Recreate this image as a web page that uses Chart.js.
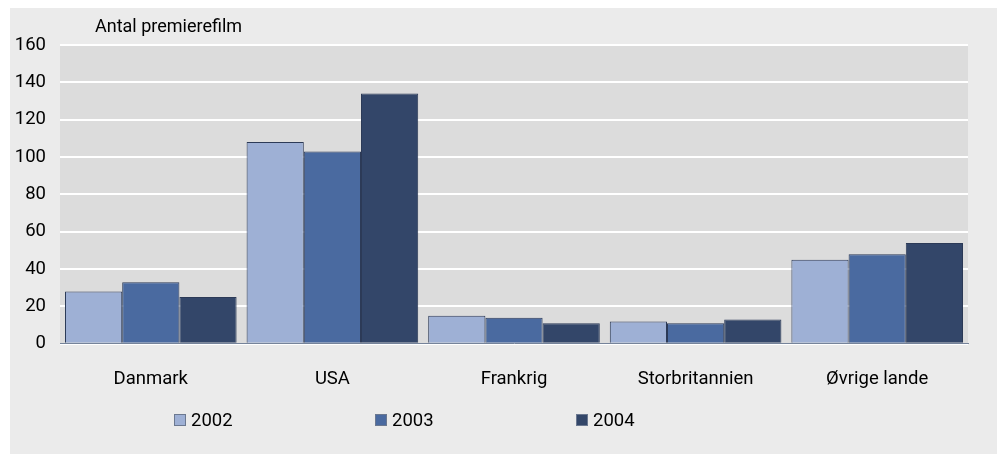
<!DOCTYPE html>
<html>
<head>
<meta charset="utf-8">
<script src="https://cdn.jsdelivr.net/npm/chart.js@4"></script>
<style>
    body { margin: 0; background: #ffffff; }
    #panel { position: absolute; left: 10px; top: 8px; width: 987px; height: 446px; background: #ebebeb; }
</style>
</head>
<body>
<div id="panel"><canvas id="chart" width="987" height="446"></canvas></div>
<script>
// Data
const categories = ['Danmark', 'USA', 'Frankrig', 'Storbritannien', 'Øvrige lande'];
const years = ['2002', '2003', '2004'];
const values2002 = [28, 108, 15, 12, 45];
const values2003 = [33, 103, 14, 11, 48];
const values2004 = [25, 134, 11, 13, 54];
const yTicks = [0, 20, 40, 60, 80, 100, 120, 140, 160];

const colors = ['#9eb0d5', '#4a6aa0', '#334669'];
const fontFamily = 'Roboto, "Open Sans", sans-serif';

// Grey plot background, axis title and legend drawn on the canvas
const decorPlugin = {
    id: 'decor',
    beforeDraw(chart) {
        const { ctx, chartArea } = chart;
        ctx.save();
        ctx.fillStyle = '#dcdcdc';
        ctx.fillRect(chartArea.left, chartArea.top, chartArea.right - chartArea.left, chartArea.bottom - chartArea.top);
        ctx.restore();
    },
    afterDraw(chart) {
        const { ctx, chartArea } = chart;
        ctx.save();
        ctx.fillStyle = '#000000';
        ctx.font = '18px ' + fontFamily;
        ctx.textBaseline = 'middle';
        ctx.fillText('Antal premierefilm', chartArea.left + 35, 19);

        // legend
        ctx.font = '18.5px ' + fontFamily;
        years.forEach((year, i) => {
            const x = chartArea.left + 114 + i * 201;
            const y = 412;
            ctx.fillStyle = colors[i];
            ctx.fillRect(x, y - 6, 12, 12);
            ctx.strokeStyle = '#6b7890';
            ctx.lineWidth = 1;
            ctx.strokeRect(x + 0.5, y - 5.5, 11, 11);
            ctx.fillStyle = '#000000';
            ctx.fillText(year, x + 17, y + 1);
        });
        ctx.restore();
    }
};

const ctx = document.getElementById('chart').getContext('2d');
const chart = new Chart(ctx, {
    type: 'bar',
    data: {
        labels: categories,
        datasets: [
            { label: years[0], data: values2002, backgroundColor: colors[0] },
            { label: years[1], data: values2003, backgroundColor: colors[1] },
            { label: years[2], data: values2004, backgroundColor: colors[2] }
        ].map(ds => Object.assign(ds, { borderColor: '#2c3a57', borderWidth: 1, categoryPercentage: 0.945, barPercentage: 1 }))
    },
    options: {
        responsive: false,
        animation: false,
        layout: { padding: { top: 37, right: 29, bottom: 40, left: 0 } },
        plugins: {
            legend: { display: false },
            tooltip: { enabled: false }
        },
        scales: {
            x: {
                grid: { display: false, drawTicks: false },
                border: { display: true, color: '#75839a', width: 1 },
                ticks: { color: '#000000', padding: 24, font: { family: fontFamily, size: 18.5 } }
            },
            y: {
                min: 0,
                max: 160,
                afterBuildTicks: scale => { scale.ticks = yTicks.map(v => ({ value: v })); },
                afterFit: scale => { scale.width = 50; },
                grid: { color: '#ffffff', lineWidth: 2, drawTicks: false },
                border: { display: false },
                ticks: { color: '#000000', padding: 14, font: { family: fontFamily, size: 18.5 } }
            }
        }
    },
    plugins: [decorPlugin]
});
</script>
</body>
</html>
